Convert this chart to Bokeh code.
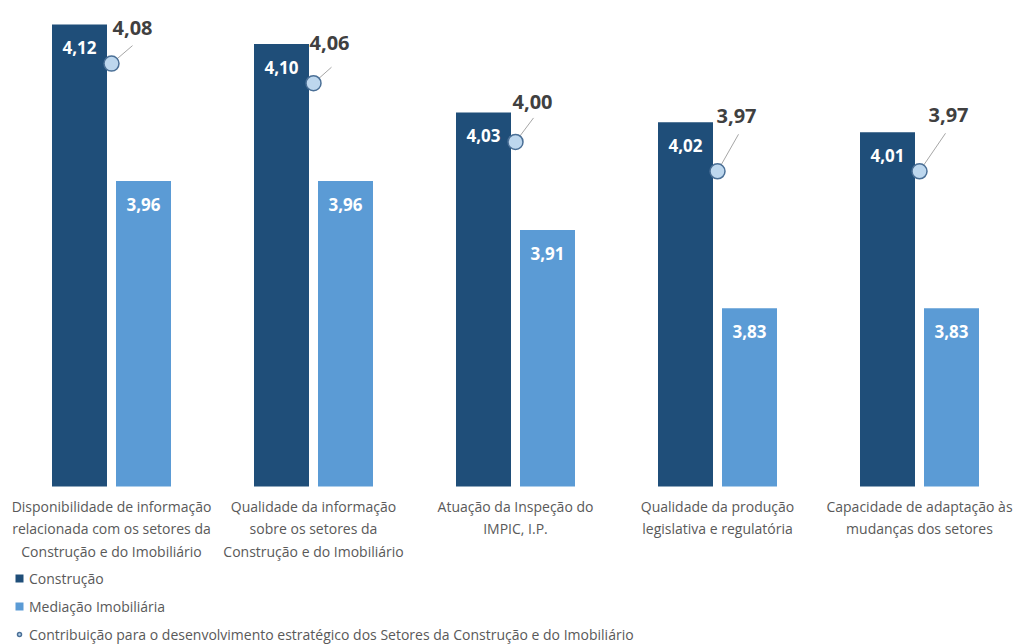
from bokeh.plotting import figure
from bokeh.models import Range1d, Legend, LegendItem, ColumnDataSource
from bokeh.core.properties import value
from bokeh.embed import file_html
from bokeh.resources import INLINE

# ---------------- data ----------------
categories = [
    "Disponibilidade de informação\nrelacionada com os setores da\nConstrução e do Imobiliário",
    "Qualidade da informação\nsobre os setores da\nConstrução e do Imobiliário",
    "Atuação da Inspeção do\nIMPIC, I.P.",
    "Qualidade da produção\nlegislativa e regulatória",
    "Capacidade de adaptação às\nmudanças dos setores",
]
series_names = [
    "Construção",
    "Mediação Imobiliária",
    "Contribuição para o desenvolvimento estratégico dos Setores da Construção e do Imobiliário",
]
construcao = [4.12, 4.10, 4.03, 4.02, 4.01]
mediacao = [3.96, 3.96, 3.91, 3.83, 3.83]
contribuicao = [4.08, 4.06, 4.00, 3.97, 3.97]

# ---------------- style / layout ----------------
W, H = 1018, 644
LEFT = 10
FRAME_W = W - LEFT
CAT_PX = 202
X_MAX = FRAME_W / CAT_PX               # category slots visible (last one slightly cropped)
BASE = 3.648                           # value at the bars' baseline
PXU = 978.9                            # pixels per value unit
Y_MAX = BASE + 486 / PXU               # baseline sits 486 px below the top
Y_MIN = Y_MAX - H / PXU                # area under the baseline holds labels + legend
BAR_OFF = 32 / CAT_PX
BAR_W = 55 / CAT_PX
DARK, LIGHT = "#1f4e79", "#5b9bd5"
FONT = "Open Sans"
GREY_TXT = "#595959"
# per-point placement of the marker labels (pixels)
LABEL_DX = [1, -4, -3, -1, 9]
LABEL_RISE = [36, 40, 40, 55, 56]
LEAD_DX = [21, 18, 18, 21, 26]
LEAD_DY = [18, 16, 24, 37, 38]


def fmt(v):
    return f"{v:.2f}".replace(".", ",")


centers = [i + 0.5 for i in range(len(categories))]
src = ColumnDataSource(dict(
    xc=[c - BAR_OFF for c in centers],
    xm=[c + BAR_OFF for c in centers],
    x=centers,
    cat=categories,
    cat_y=[BASE - 10 / PXU] * len(categories),
    c=construcao, m=mediacao, t=contribuicao,
    c_lab=[fmt(v) for v in construcao],
    m_lab=[fmt(v) for v in mediacao],
    t_lab=[fmt(v) for v in contribuicao],
    c_lab_y=[v - 23 / PXU for v in construcao],
    m_lab_y=[v - 23 / PXU for v in mediacao],
    t_lab_x=[c + d / CAT_PX for c, d in zip(centers, LABEL_DX)],
    t_lab_y=[v + r / PXU for v, r in zip(contribuicao, LABEL_RISE)],
    lead_x1=[c + d / CAT_PX for c, d in zip(centers, LEAD_DX)],
    lead_y1=[v + d / PXU for v, d in zip(contribuicao, LEAD_DY)],
))

p = figure(
    x_range=Range1d(0, X_MAX),
    y_range=Range1d(Y_MIN, Y_MAX),
    width=W, height=H,
    min_border_left=LEFT, min_border_right=0, min_border_top=0,
    min_border_bottom=0,
    output_backend="svg", toolbar_location=None,
)
p.outline_line_color = None
p.xgrid.visible = False
p.ygrid.visible = False
p.xaxis.visible = False
p.yaxis.visible = False

r_c = p.vbar(x="xc", top="c", bottom=BASE, width=BAR_W, source=src,
             fill_color=DARK, line_color=None)
r_m = p.vbar(x="xm", top="m", bottom=BASE, width=BAR_W, source=src,
             fill_color=LIGHT, line_color=None)

# category labels under the bars
p.text(x="x", y="cat_y", text="cat", source=src, text_align="center",
       text_baseline="top", text_color=GREY_TXT, text_font=value(FONT),
       text_font_size="14px", text_line_height=1.2)

p.text(x="xc", y="c_lab_y", text="c_lab", source=src, text_align="center",
       text_baseline="middle", text_color="white", text_font=value(FONT),
       text_font_style="bold", text_font_size="17px")
p.text(x="xm", y="m_lab_y", text="m_lab", source=src, text_align="center",
       text_baseline="middle", text_color="white", text_font=value(FONT),
       text_font_style="bold", text_font_size="17px")

p.segment(x0="x", y0="t", x1="lead_x1", y1="lead_y1", source=src,
          line_color="#a6a6a6", line_width=1)
r_t = p.scatter(x="x", y="t", source=src, size=15, marker="circle",
                fill_color="#bdd7ee", line_color="#4a6f96", line_width=1.5)
p.text(x="t_lab_x", y="t_lab_y", text="t_lab", source=src, text_align="left",
       text_baseline="middle", text_color="#404040", text_font=value(FONT),
       text_font_style="bold", text_font_size="20px")

legend = Legend(
    items=[LegendItem(label=series_names[0], renderers=[r_c]),
           LegendItem(label=series_names[1], renderers=[r_m]),
           LegendItem(label=series_names[2], renderers=[r_t])],
    location=(4, 0), orientation="vertical",
    glyph_width=10, glyph_height=10, label_height=20, label_standoff=5,
    spacing=8, padding=0, margin=0,
    label_text_font=FONT, label_text_font_size="14px", label_text_color=GREY_TXT,
    border_line_alpha=0, background_fill_alpha=0,
)
p.add_layout(legend)

open("out.html", "w").write(file_html(p, INLINE))
